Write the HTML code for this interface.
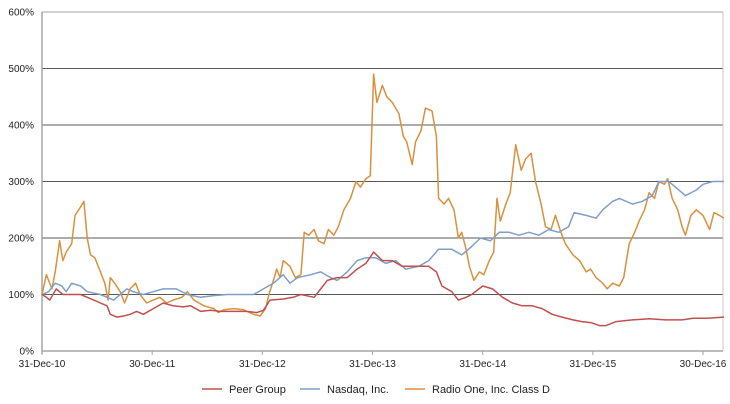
<!DOCTYPE html>
<html><head><meta charset="utf-8">
<style>
body{margin:0;background:#fff;}
svg{display:block;font-family:"Liberation Sans",Arial,sans-serif;}
</style></head>
<body>
<svg id="chart" width="730" height="404"></svg>
<script>
const yTicks=[0,100,200,300,400,500,600];
const xTickLabels=["31-Dec-10","30-Dec-11","31-Dec-12","31-Dec-13","31-Dec-14","31-Dec-15","30-Dec-16"];
const xTickYears=[0,1,2,3,4,5,6];
const seriesNames=["Peer Group","Nasdaq, Inc.","Radio One, Inc. Class D"];
// time in years since 31-Dec-10
const peerT=[0,.04,.07,.13,.19,.27,.35,.41,.47,.53,.59,.62,.68,.74,.80,.86,.92,1.01,1.10,1.19,1.28,1.35,1.44,1.53,1.62,1.74,1.86,1.95,2.01,2.07,2.19,2.28,2.35,2.47,2.53,2.59,2.68,2.77,2.86,2.94,3.01,3.09,3.18,3.27,3.39,3.51,3.58,3.63,3.72,3.78,3.85,3.90,4.00,4.09,4.18,4.27,4.36,4.45,4.54,4.63,4.72,4.82,4.90,4.99,5.06,5.12,5.21,5.36,5.51,5.66,5.81,5.91,6.03,6.19];
const peerV=[100,95,90,110,100,100,100,95,90,85,80,65,60,62,65,70,65,75,85,80,78,80,70,72,70,70,70,68,72,90,92,95,100,95,110,125,130,130,145,155,175,160,160,150,150,150,140,115,105,90,95,100,115,110,95,85,80,80,75,65,60,55,52,50,45,45,52,55,57,55,55,58,58,60];
const nasT=[0,.06,.12,.18,.22,.27,.35,.41,.53,.59,.65,.71,.77,.83,.92,1.01,1.10,1.22,1.32,1.44,1.56,1.68,1.80,1.92,2.01,2.10,2.19,2.25,2.32,2.44,2.53,2.62,2.68,2.77,2.86,2.94,3.03,3.12,3.21,3.30,3.42,3.51,3.60,3.72,3.81,3.90,3.98,4.07,4.15,4.24,4.33,4.42,4.51,4.60,4.69,4.78,4.83,4.94,5.03,5.09,5.18,5.24,5.36,5.45,5.54,5.60,5.69,5.75,5.84,5.94,6.00,6.09,6.19];
const nasV=[100,105,120,115,105,120,115,105,100,95,90,100,110,105,100,105,110,110,100,95,98,100,100,100,110,120,135,120,130,135,140,130,125,140,160,165,165,155,160,145,150,160,180,180,170,185,200,195,210,210,205,210,205,215,210,220,245,240,235,250,265,270,260,265,275,300,300,290,275,285,295,300,300];
const radT=[0,.04,.09,.12,.16,.19,.22,.27,.30,.35,.38,.41,.44,.48,.53,.57,.60,.62,.66,.71,.75,.80,.85,.89,.95,1.01,1.07,1.13,1.19,1.27,1.32,1.38,1.47,1.56,1.60,1.65,1.74,1.83,1.92,1.98,2.03,2.06,2.10,2.13,2.16,2.19,2.25,2.30,2.35,2.38,2.42,2.47,2.51,2.56,2.60,2.65,2.69,2.74,2.80,2.85,2.89,2.94,2.98,3.01,3.04,3.09,3.13,3.18,3.24,3.28,3.31,3.36,3.39,3.44,3.48,3.54,3.58,3.60,3.65,3.69,3.74,3.78,3.81,3.85,3.88,3.92,3.97,4.01,4.06,4.10,4.13,4.16,4.21,4.25,4.30,4.35,4.39,4.44,4.48,4.53,4.57,4.62,4.66,4.71,4.75,4.82,4.88,4.94,4.98,5.03,5.09,5.13,5.18,5.24,5.28,5.33,5.38,5.42,5.47,5.51,5.56,5.60,5.65,5.68,5.72,5.77,5.81,5.84,5.89,5.94,6.00,6.06,6.10,6.15,6.19];
const radV=[100,135,110,140,195,160,175,190,240,255,265,200,170,165,140,120,90,130,120,105,85,110,120,100,85,90,95,85,90,95,105,90,80,75,68,73,75,73,65,62,75,100,125,145,130,160,150,130,135,210,205,215,195,190,215,205,220,250,270,300,290,305,310,490,440,470,450,440,420,380,370,330,370,390,430,425,380,270,260,270,250,200,210,180,150,125,140,135,160,175,270,230,260,280,365,320,340,350,300,260,220,215,240,210,190,170,160,140,145,130,120,110,120,115,130,190,210,230,250,280,270,300,295,305,270,250,220,205,240,250,240,215,245,240,235];

const svg=document.getElementById('chart');
const NS='http://www.w3.org/2000/svg';
const L=42,R=723,T=12,B=351,yMax=600,xMax=6.19;
const sx=t=>L+t*(703-L)/6;
const sy=v=>B-v*(B-T)/yMax;
function mk(tag,attrs,parent){const e=document.createElementNS(NS,tag);for(const k in attrs)e.setAttribute(k,attrs[k]);(parent||svg).appendChild(e);return e;}

const grid=mk('g',{});


yTicks.forEach(v=>{
  if(v>0){const ln=mk('line',{x1:L,x2:R,y1:sy(v),y2:sy(v),stroke:v===600?'#a6a6a6':'#595959','stroke-width':1},grid);
  
  }
  const tx=mk('text',{x:34,y:sy(v)+3.5,'text-anchor':'end','font-size':10,fill:'#222'});
  tx.textContent=v+'%';
  
  
});
const rb=mk('line',{x1:R,x2:R,y1:T,y2:B,stroke:'#c8c8c8'});


const ya=mk('line',{x1:L,x2:L,y1:T,y2:B+3,stroke:'#a6a6a6','stroke-width':1.5});


const xa=mk('line',{x1:L,x2:R,y1:B,y2:B,stroke:'#a6a6a6','stroke-width':1.5});


xTickYears.forEach((t,i)=>{
  const tk=mk('line',{x1:sx(t),x2:sx(t),y1:B,y2:B+4,stroke:'#a6a6a6'});
  
  
  const tx=mk('text',{x:sx(t),y:B+16,'text-anchor':'middle','font-size':10,fill:'#222'});
  tx.textContent=xTickLabels[i];
  
  
});
const colors=['#C0504D','#7F9FC8','#D9903F'];
const data=[[peerT,peerV],[nasT,nasV],[radT,radV]];
const names=['peer-group-line','nasdaq-line','radio-one-line'];
[2,1,0].forEach(i=>{
  const [ts,vs]=data[i];
  const d=ts.map((t,j)=>(j?'L':'M')+sx(t).toFixed(1)+','+sy(vs[j]).toFixed(1)).join('');
  const p=mk('path',{d:d,fill:'none',stroke:colors[i],'stroke-width':1.5,'stroke-linejoin':'round'});
  
  
});
const legX=[202,300,405];
seriesNames.forEach((n,i)=>{
  const g=mk('g',{});
  
  
  mk('line',{x1:legX[i],x2:legX[i]+20,y1:389,y2:389,stroke:colors[i],'stroke-width':1.5},g);
  const tx=mk('text',{x:legX[i]+27,y:393,'font-size':11,fill:'#222'},g);
  tx.textContent=n;
});
</script>
</body></html>
